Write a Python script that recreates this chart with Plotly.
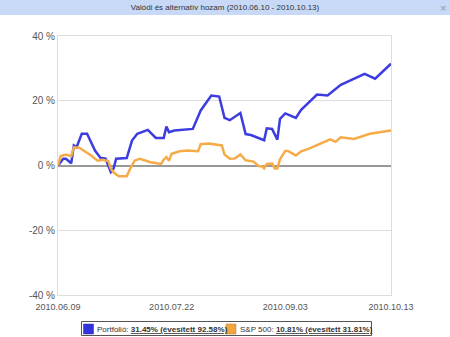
import plotly.graph_objects as go

port_dates = ["2010-06-09", "2010-06-11", "2010-06-12", "2010-06-14", "2010-06-15", "2010-06-16",
              "2010-06-18", "2010-06-20", "2010-06-23", "2010-06-25", "2010-06-27", "2010-06-29",
              "2010-06-30", "2010-07-01", "2010-07-05", "2010-07-07", "2010-07-09", "2010-07-13",
              "2010-07-16", "2010-07-19", "2010-07-20", "2010-07-21", "2010-07-23", "2010-07-30",
              "2010-08-02", "2010-08-06", "2010-08-09", "2010-08-11", "2010-08-13", "2010-08-17",
              "2010-08-19", "2010-08-21", "2010-08-26", "2010-08-27", "2010-08-29", "2010-08-31",
              "2010-09-01", "2010-09-03", "2010-09-07", "2010-09-09", "2010-09-15", "2010-09-19",
              "2010-09-24", "2010-10-03", "2010-10-07", "2010-10-13"]
port_values = [0.0, 2.1, 2.1, 0.7, 6.2, 5.6,
               9.8, 9.8, 4.6, 2.4, 2.1, -2.0,
               -1.0, 2.1, 2.3, 7.7, 9.8, 11.0,
               8.5, 8.5, 12.0, 10.3, 10.8, 11.3,
               17.0, 21.6, 21.3, 14.7, 14.0, 16.2,
               9.7, 9.4, 7.8, 11.5, 11.3, 8.0,
               14.4, 16.1, 14.7, 17.2, 21.9, 21.6,
               24.9, 28.3, 26.8, 31.45]

sp_dates = ["2010-06-09", "2010-06-10", "2010-06-12", "2010-06-14", "2010-06-15", "2010-06-17",
            "2010-06-21", "2010-06-24", "2010-06-26", "2010-06-28", "2010-06-29", "2010-06-30",
            "2010-07-02", "2010-07-05", "2010-07-06", "2010-07-08", "2010-07-10", "2010-07-14",
            "2010-07-18", "2010-07-19", "2010-07-20", "2010-07-21", "2010-07-22", "2010-07-25",
            "2010-07-28", "2010-08-01", "2010-08-02", "2010-08-05", "2010-08-10", "2010-08-11",
            "2010-08-13", "2010-08-15", "2010-08-17", "2010-08-19", "2010-08-22", "2010-08-24",
            "2010-08-25", "2010-08-26", "2010-08-27", "2010-08-29", "2010-08-30", "2010-08-31",
            "2010-09-01", "2010-09-03", "2010-09-04", "2010-09-07", "2010-09-09", "2010-09-12",
            "2010-09-20", "2010-09-22", "2010-09-24", "2010-09-29", "2010-10-05", "2010-10-13"]
sp_values = [0.0, 2.9, 3.4, 2.9, 5.6, 5.5,
             3.4, 1.5, 1.8, 1.4, -1.0, -2.1,
             -3.3, -3.3, -1.5, 1.5, 2.1, 1.0,
             0.5, 1.8, 2.6, 1.5, 3.6, 4.4,
             4.6, 4.4, 6.6, 6.8, 6.2, 3.4,
             2.1, 2.2, 3.4, 1.6, 1.2, -0.2,
             -0.2, -0.9, 0.5, 0.6, -0.9, -0.9,
             1.9, 4.5, 4.5, 3.1, 4.4, 5.2,
             8.1, 7.3, 8.7, 8.2, 9.8, 10.81]

x_ticks = ["2010-06-09", "2010-07-22", "2010-09-03", "2010-10-13"]
x_tick_labels = ["2010.06.09", "2010.07.22", "2010.09.03", "2010.10.13"]
y_ticks = [-40, -20, 0, 20, 40]
y_tick_labels = ["-40 %", "-20 %", "0 %", "20 %", "40 %"]

title_text = "Valódi és alternatív hozam (2010.06.10 - 2010.10.13)"
port_name = "Portfolió: <b><u>31.45% (évesített 92.58%)</u></b>"
sp_name = "S&P 500: <b><u>10.81% (évesített 31.81%)</u></b>"

BLUE = "#3c3ce0"
ORANGE = "#f5ab48"

# geometry helpers (pixel -> paper) for decorations only
L, T, W, H = 58, 36, 333, 259
def px(x):
    return (x - L) / W
def py(y):
    return (T + H - y) / H

fig = go.Figure()
fig.add_trace(go.Scatter(x=port_dates, y=port_values, mode="lines",
                         line=dict(color=BLUE, width=2.5), showlegend=False,
                         name="Portfolió"))
fig.add_trace(go.Scatter(x=sp_dates, y=sp_values, mode="lines",
                         line=dict(color=ORANGE, width=2.5), showlegend=False,
                         name="S&P 500"))

shapes = [
    # title bar
    dict(type="rect", xref="paper", yref="paper", x0=px(0), x1=px(450), y0=py(15), y1=py(0),
         fillcolor="#c7d9f6", line=dict(width=0), layer="below"),
    # legend box
    dict(type="rect", xref="paper", yref="paper", x0=px(81.5), x1=px(371.5), y0=py(335.5), y1=py(321.5),
         fillcolor="white", line=dict(color="#555555", width=1)),
    # legend squares
    dict(type="rect", xref="paper", yref="paper", x0=px(83.5), x1=px(93.5), y0=py(334), y1=py(324),
         fillcolor="#3333dd", line=dict(color="#2a2a99", width=0.5)),
    dict(type="rect", xref="paper", yref="paper", x0=px(226), x1=px(236), y0=py(334), y1=py(324),
         fillcolor="#f2a640", line=dict(color="#b07a30", width=0.5)),
]

annotations = [
    dict(text="×", xref="paper", yref="paper", x=px(443), y=py(7.5), showarrow=False,
         xanchor="center", yanchor="middle", font=dict(size=11, color="#999999")),
    dict(text=port_name, xref="paper", yref="paper", x=px(95), y=py(329), showarrow=False,
         xanchor="left", yanchor="middle", font=dict(size=8, color="#333333")),
    dict(text=sp_name, xref="paper", yref="paper", x=px(237.5), y=py(329), showarrow=False,
         xanchor="left", yanchor="middle", font=dict(size=8, color="#333333")),
]

fig.update_layout(
    width=450, height=337,
    margin=dict(l=L, r=450 - L - W, t=T, b=337 - T - H, autoexpand=False),
    paper_bgcolor="white", plot_bgcolor="white",
    showlegend=False,
    font=dict(family="Liberation Sans, Arial, sans-serif", size=9, color="#555555"),
    title=dict(text=title_text, x=0.5, xref="container", xanchor="center",
               y=1 - 7.5 / 337, yref="container", yanchor="middle",
               font=dict(size=8, color="#333333")),
    xaxis=dict(type="date", range=["2010-06-09", "2010-10-13"],
               tickvals=x_ticks, ticktext=x_tick_labels, ticklabelstandoff=3,
               showgrid=False, zeroline=False, showline=True, linecolor="#dddddd",
               linewidth=1, mirror=True, ticks="", tickfont=dict(size=9, color="#555555")),
    yaxis=dict(range=[-40, 40], tickvals=y_ticks, ticktext=y_tick_labels,
               showgrid=True, gridcolor="#dddddd", gridwidth=1,
               zeroline=True, zerolinecolor="#999999", zerolinewidth=2,
               showline=True, linecolor="#dddddd", linewidth=1, mirror=True,
               ticks="", tickfont=dict(size=10, color="#555555")),
    shapes=shapes,
    annotations=annotations,
)

fig.write_html("out.html")
